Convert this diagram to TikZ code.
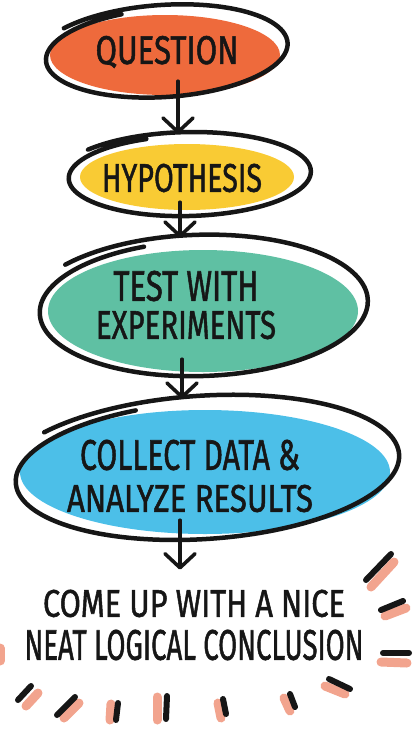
\documentclass[tikz,border=0pt]{standalone}
\usepackage{fontspec}
\setmainfont{Fira Sans}
\newfontfamily\hwfont{Fira Sans}[FakeBold=1.5]
\usetikzlibrary{shapes.geometric,arrows.meta}
\definecolor{qorange}{HTML}{EE6A3C}
\definecolor{hyellow}{HTML}{F9CB34}
\definecolor{tgreen}{HTML}{5FC0A3}
\definecolor{cblue}{HTML}{4CBFE8}
\definecolor{dpink}{HTML}{F2A48E}
\definecolor{ink}{HTML}{161616}
\newcommand{\hw}[3]{\resizebox{#1pt}{#2pt}{\hwfont #3}}
\newcommand{\spiral}[2]{\draw[outl] plot[smooth, domain=110:500, samples=110, variable=\t]
  ({#1*(0.96+0.1*(\t-110)/390)*cos(\t)}, {-#2*(0.96+0.1*(\t-110)/390)*sin(\t)});}
\begin{document}
\begin{tikzpicture}[x=1pt,y=-1pt,
  outl/.style={draw=ink, line width=4.5pt, line cap=round, line join=round},
  blob/.style={shape=ellipse, inner sep=0pt},
  lbl/.style={inner sep=0pt, align=center, text=ink, font=\fontsize{10}{38}\selectfont},
  conn/.style={draw=ink, line width=3.6pt, line cap=round, line join=round,
    -{Straight Barb[length=14pt,width=30pt,line cap=round,line join=round]}},
  pinkdash/.style={draw=dpink, line width=9pt, line cap=round},
  blackdash/.style={draw=ink, line width=6pt, line cap=round}]
\useasboundingbox (0,0) rectangle (415,729);

% ---------- QUESTION ----------
\fill[qorange] (165,55) ellipse [x radius=115, y radius=40];
\begin{scope}[shift={(164,52)}, rotate=4]\spiral{121}{45}\end{scope}
\node[blob, minimum width=242pt, minimum height=90pt] (Q) at (164,52) {};
\node[lbl] (qt) at (167,52) {\hw{143}{28}{QUESTION}};

% ---------- HYPOTHESIS ----------
\fill[hyellow] (187,177) ellipse [x radius=107, y radius=33];
\begin{scope}[shift={(187,175)}, rotate=1.5]\spiral{121}{41}\end{scope}
\node[blob, minimum width=242pt, minimum height=82pt] (H) at (187,175) {};
\node[lbl] (ht) at (182,178) {\hw{160}{28}{HYPOTHESIS}};

% ---------- TEST ----------
\fill[tgreen] (203,311) ellipse [x radius=155, y radius=61];
\begin{scope}[shift={(200,307)}, rotate=2]\spiral{164}{69}\end{scope}
\node[blob, minimum width=328pt, minimum height=138pt] (T) at (200,307) {};
\node[lbl] (tt) at (186,305) {\hw{145}{30}{TEST WITH}\\\hw{180}{28}{EXPERIMENTS}};

% ---------- COLLECT ----------
\fill[cblue] (205,472) ellipse [x radius=185, y radius=62];
\begin{scope}[shift={(203,469)}, rotate=4]\spiral{192}{70}\end{scope}
\node[blob, minimum width=384pt, minimum height=140pt] (C) at (203,469) {};
\node[lbl, font=\fontsize{10}{42}\selectfont] (ct) at (190,476)
  {\hw{220}{30}{COLLECT DATA \&}\\\hw{246}{27}{ANALYZE RESULTS}};

% ---------- CONCLUSION ----------
\node[lbl, font=\fontsize{10}{43}\selectfont] (N) at (194,625)
  {\hw{302}{27}{COME UP WITH A NICE}\\\hw{339}{30}{NEAT LOGICAL CONCLUSION}};

% ---------- connectors ----------
\draw[conn] ([xshift=14pt,yshift=16pt]Q.south) -- ([xshift=-9pt]H.north);
\draw[conn] ([xshift=-7pt,yshift=14pt]H.south) -- ([xshift=-20pt]T.north);
\draw[conn] ([xshift=-18pt,yshift=17pt]T.south) -- ([xshift=-21pt]C.north);
\draw[conn] ([xshift=-23pt,yshift=19pt]C.south) -- ([xshift=-14pt,yshift=20pt]N.north);

% ---------- burst dashes ----------
\draw[pinkdash] (371,587) -- (394,562);   \draw[blackdash] (366,580) -- (391,554);
\draw[pinkdash] (385,616) -- (406,608);   \draw[blackdash] (381,610) -- (403,601);
\draw[pinkdash] (381,662) -- (407,663);   \draw[blackdash] (383,653) -- (409,653);
\draw[pinkdash] (325,686) -- (345,694);   \draw[blackdash] (329,679) -- (350,689);
\draw[pinkdash] (284,698) -- (290,711);   \draw[blackdash] (290,694) -- (295,707);
\draw[pinkdash] (218,703) -- (221,718);   \draw[blackdash] (223,699) -- (226,714);
\draw[pinkdash] (157,697) -- (157,720);   \draw[blackdash] (167,696) -- (166,719);
\draw[pinkdash] (111,704) -- (110,720);   \draw[blackdash] (118,703) -- (116,720);
\draw[pinkdash] (64,718) -- (79,703);     \draw[blackdash] (57,715) -- (75,697);
\draw[pinkdash] (26,706) -- (38,693);     \draw[blackdash] (18,700) -- (31,686);
\draw[pinkdash] (0,648) -- (0,661);
\end{tikzpicture}
\end{document}
